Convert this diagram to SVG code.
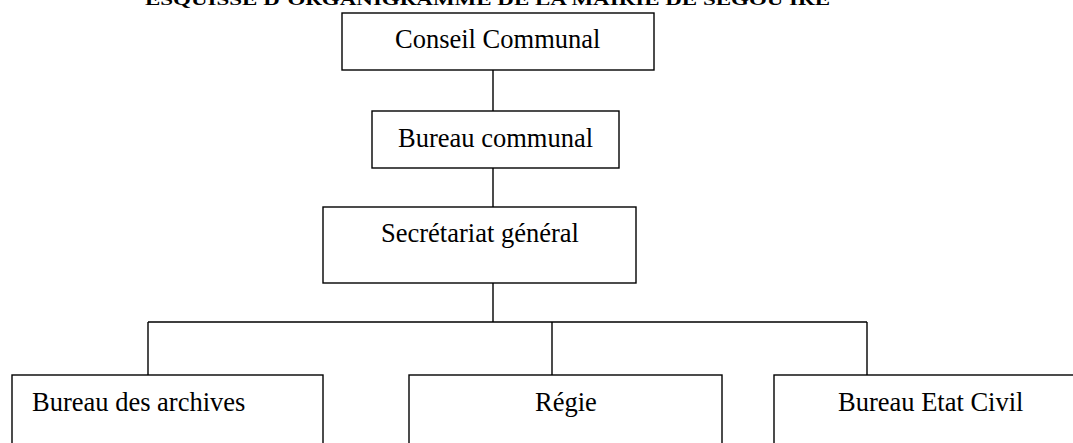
<svg xmlns="http://www.w3.org/2000/svg" width="1073" height="443" viewBox="0 0 1073 443">
<style>
.box{fill:#fff;stroke:#000;stroke-width:1.4}
.lbl{font-family:"Liberation Serif","Times New Roman",serif;font-size:26.5px;fill:#000}
.title{font-family:"Liberation Serif","Times New Roman",serif;font-size:17px;font-weight:bold;fill:#000}
.conn{stroke:#000;stroke-width:1.4;fill:none}
</style>
<rect width="1073" height="443" fill="#fff"/>
<text class="title" x="145" y="5" textLength="685" lengthAdjust="spacingAndGlyphs">ESQUISSE D’ORGANIGRAMME DE LA MAIRIE DE SEGOU IRE</text>
<g id="connectors">
<path class="conn" d="M493 70V111M493 168V207M493 283V322M148 322H867M148 322V375M552 322V375M867 322V375"/>
</g>
<g id="conseil"><rect class="box" x="342" y="13" width="312" height="57"/><text class="lbl" x="395" y="48">Conseil Communal</text></g>
<g id="bureau"><rect class="box" x="372" y="111" width="247" height="57"/><text class="lbl" x="398" y="147">Bureau communal</text></g>
<g id="secretariat"><rect class="box" x="323" y="207" width="313" height="76"/><text class="lbl" x="381" y="242">Secrétariat général</text></g>
<g id="archives"><rect class="box" x="12" y="375" width="311" height="100"/><text class="lbl" x="32" y="411">Bureau des archives</text></g>
<g id="regie"><rect class="box" x="409" y="375" width="313" height="100"/><text class="lbl" x="535" y="411">Régie</text></g>
<g id="etatcivil"><rect class="box" x="774" y="375" width="320" height="100"/><text class="lbl" x="838" y="411">Bureau Etat Civil</text></g>
</svg>
